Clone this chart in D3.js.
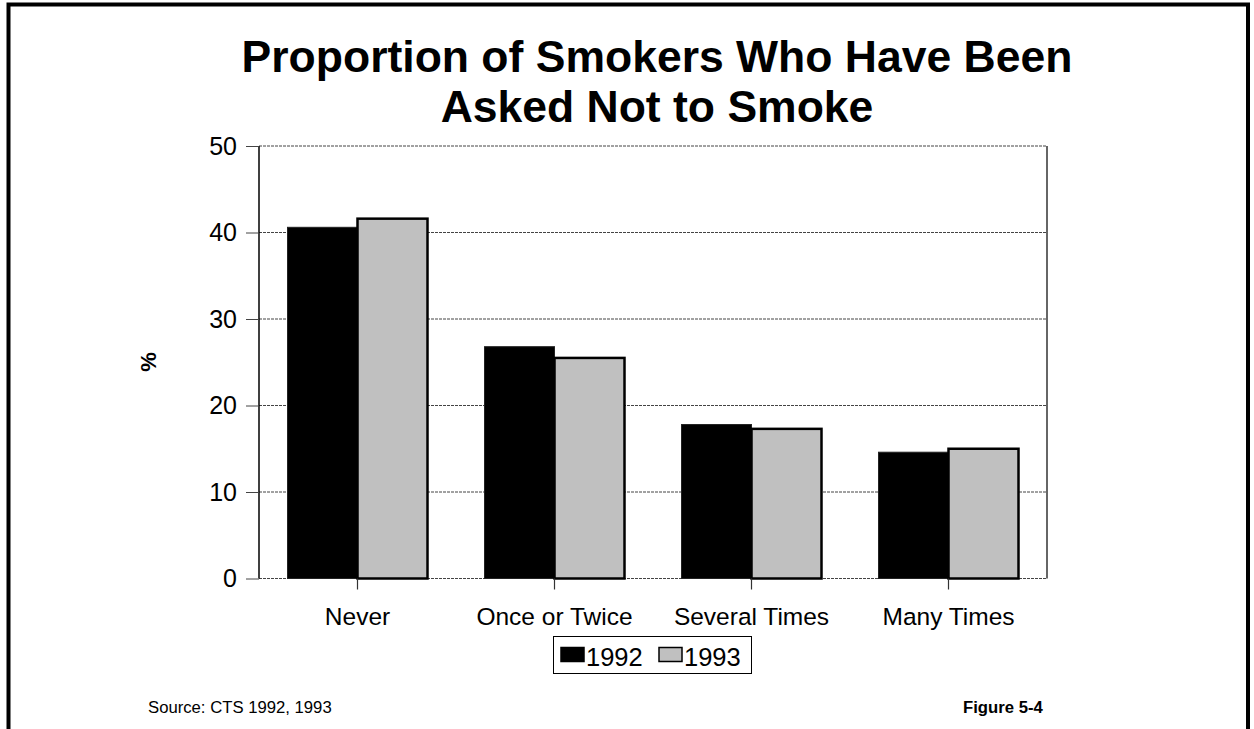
<!DOCTYPE html>
<html>
<head>
<meta charset="utf-8">
<script src="https://cdn.jsdelivr.net/npm/d3@7"></script>
<style>
  html, body { margin: 0; padding: 0; background: #fff; }
  svg { display: block; font-family: "Liberation Sans", Arial, sans-serif; }
</style>
</head>
<body>
<svg id="chart" width="1254" height="729"></svg>
<script>
// Response categories and the share of smokers (%) in each survey year
const categories = ["Never", "Once or Twice", "Several Times", "Many Times"];
const years = ["1992", "1993"];
const values1992 = [40.6, 26.8, 17.8, 14.6];
const values1993 = [41.6, 25.5, 17.3, 15.0];
const yTicks = [0, 10, 20, 30, 40, 50];

const colors = { "1992": "#000000", "1993": "#c0c0c0" };

const svg = d3.select("#chart");
const W = 1254, H = 729;
const plot = { left: 259, right: 1047, top: 146, bottom: 578.5 };

// Page frame (open at the bottom)
svg.append("path")
  .attr("d", `M8.5,${H} V4.5 H1248 V${H}`)
  .attr("fill", "none").attr("stroke", "#000").attr("stroke-width", 4);

// Title
const title = svg.append("text")
  .attr("x", 657).attr("text-anchor", "middle")
  .attr("font-weight", "bold").attr("font-size", 44.5).attr("fill", "#000");
title.append("tspan").attr("x", 657).attr("y", 72).text("Proportion of Smokers Who Have Been");
title.append("tspan").attr("x", 657).attr("y", 122).text("Asked Not to Smoke");

// Scales
const x0 = d3.scaleBand().domain(categories).range([plot.left, plot.right]).paddingInner(0).paddingOuter(0);
const groupPad = 28.5;
const x1 = d3.scaleBand().domain(years).range([groupPad, x0.bandwidth() - groupPad]).padding(0);
const y = d3.scaleLinear().domain([0, 50]).range([plot.bottom, plot.top]);

// Horizontal dashed gridlines
svg.append("g").selectAll("line")
  .data(yTicks)
  .join("line")
  .attr("x1", plot.left).attr("x2", plot.right)
  .attr("y1", d => y(d)).attr("y2", d => y(d))
  .attr("stroke", "#444").attr("stroke-width", 1)
  .attr("stroke-dasharray", "3,1");

// Right edge of plot area
svg.append("line")
  .attr("x1", plot.right).attr("x2", plot.right)
  .attr("y1", plot.top).attr("y2", plot.bottom)
  .attr("stroke", "#333").attr("stroke-width", 1.5);

// Bars
const rows = categories.map((c, i) => ({ category: c, values: [
  { year: "1992", value: values1992[i] },
  { year: "1993", value: values1993[i] }
]}));

const groups = svg.append("g").selectAll("g")
  .data(rows).join("g")
  .attr("transform", d => `translate(${x0(d.category)},0)`);

groups.selectAll("rect")
  .data(d => d.values).join("rect")
  .attr("x", d => x1(d.year))
  .attr("y", d => y(d.value))
  .attr("width", x1.bandwidth())
  .attr("height", d => y(0) - y(d.value))
  .attr("fill", d => colors[d.year])
  .attr("stroke", d => d.year === "1992" ? "#222" : "#000")
  .attr("stroke-width", d => d.year === "1992" ? 1 : 2.5);

// Y axis
const yAxis = svg.append("g")
  .attr("transform", `translate(${plot.left},0)`)
  .call(d3.axisLeft(y).tickValues(yTicks).tickSize(13).tickPadding(9));
yAxis.select(".domain").attr("stroke", "#000").attr("stroke-width", 1.5)
  .attr("d", `M0,${plot.top}V${plot.bottom}`);
yAxis.selectAll(".tick line").attr("stroke", "#444");
yAxis.selectAll(".tick text")
  .attr("font-size", 25).attr("fill", "#000")
  .attr("font-family", "'Liberation Sans', Arial, sans-serif");

// X axis: ticks at category centres
const xAxis = svg.append("g")
  .attr("transform", `translate(0,${plot.bottom})`)
  .call(d3.axisBottom(x0).tickSize(11).tickPadding(18));
xAxis.select(".domain").remove();
xAxis.selectAll(".tick line").attr("stroke", "#333").attr("stroke-width", 1.2);
xAxis.selectAll(".tick text")
  .attr("font-size", 24.5).attr("fill", "#000")
  .attr("font-family", "'Liberation Sans', Arial, sans-serif");

// Y axis title
svg.append("text")
  .attr("transform", "translate(156,362) rotate(-90)")
  .attr("text-anchor", "middle")
  .attr("font-weight", "bold").attr("font-size", 22)
  .text("%");

// Legend
const legend = svg.append("g");
legend.append("rect")
  .attr("x", 553.5).attr("y", 636.5).attr("width", 198).attr("height", 37)
  .attr("fill", "#fff").attr("stroke", "#000").attr("stroke-width", 1);
const legendItems = [
  { year: "1992", x: 561 },
  { year: "1993", x: 659 }
];
legendItems.forEach(it => {
  legend.append("rect")
    .attr("x", it.x).attr("y", 647.5).attr("width", 23).attr("height", 14)
    .attr("fill", colors[it.year]).attr("stroke", "#000").attr("stroke-width", 1.5);
  legend.append("text")
    .attr("x", it.x + 25).attr("y", 666)
    .attr("font-size", 25.5).text(it.year);
});

// Footer
svg.append("text")
  .attr("x", 148).attr("y", 713).attr("font-size", 16.7).text("Source: CTS 1992, 1993");
svg.append("text")
  .attr("x", 963).attr("y", 713).attr("font-size", 16.7).attr("font-weight", "bold").text("Figure 5-4");
</script>
</body>
</html>
